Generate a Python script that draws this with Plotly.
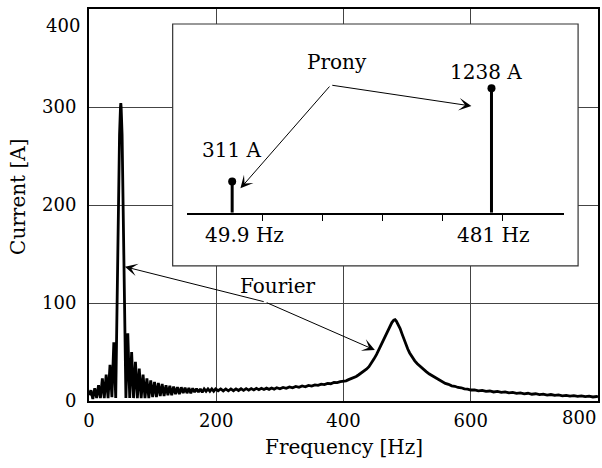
import plotly.graph_objects as go

# ---------------- data ----------------
# Fourier spectrum, 0-58 Hz (left side lobes + 50 Hz peak)
freq_a = [0, 3, 6, 9, 12, 15, 18, 21, 24, 27, 30, 33, 36, 39, 42,
          45, 48, 49.5, 50, 50.5, 52, 55, 58]
cur_a = [6, 11, 2, 13, 3, 16, 3, 23, 3, 27, 3, 37, 4, 60, 3,
         150, 272, 300, 304, 300, 272, 150, 3]
# 61-199 Hz (right side lobes)
freq_b = [61, 64, 67, 70, 73, 76, 79, 82, 85, 88, 91, 94, 97, 100, 103, 106,
          109, 112, 115, 118, 121, 124, 127, 130, 133, 136, 139, 142, 145, 148,
          151, 154, 157, 160, 163, 166, 169, 172, 175, 178, 181, 184, 187, 190,
          193, 196, 199]
cur_b = [69, 3, 50, 3, 40, 3, 33, 3, 27, 3, 23, 3, 21, 4, 19.5, 4,
         18.5, 5, 17.5, 5, 16, 6, 15.5, 6, 14.8, 7, 14.3, 7, 14, 8,
         13.6, 8, 13.2, 8, 13, 9, 12.6, 9, 12.4, 9, 12.4, 10, 12.4, 10,
         12.4, 10, 12.4]
# 203-400 Hz
freq_c = [203, 207, 211, 215, 219, 223, 227, 231, 235, 239, 243, 247, 251, 255,
          259, 263, 267, 271, 275, 279, 283, 287, 291, 295,
          300, 305, 310, 315, 320, 325, 330, 335, 340, 345, 350, 355, 360, 365,
          370, 375, 380, 385, 390, 395, 400]
cur_c = [10.5, 12.3, 10.3, 12.3, 10.4, 12.3, 10.5, 12.4, 10.7, 12.5, 10.9, 12.6,
         11.1, 12.7, 11.3, 12.9, 11.5, 13, 11.7, 13.1, 11.9, 13.3, 12.1, 13.5,
         12.5, 13.9, 12.9, 14.3, 13.4, 14.8, 13.9, 15.3, 14.5, 15.9, 15.2, 16.5,
         15.9, 17.2, 16.7, 18, 17.6, 18.9, 18.7, 19.8, 20.2]
# 404-600 Hz (481 Hz resonance)
freq_d = [404, 408, 412, 416, 420, 424, 428, 432, 436, 440, 444, 448, 452, 456,
          460, 464, 468, 472, 476, 479, 481, 483, 486, 489, 492, 495, 498, 501,
          504, 508, 512, 516, 520, 525, 530, 535, 540, 545, 550, 555, 560, 565,
          570, 575, 580, 585, 590, 595, 600]
cur_d = [20.6, 21.8, 22.6, 24, 25, 26.8, 28.5, 30.5, 32.5, 35, 38.5, 43, 47.5,
         53, 58, 63, 68.5, 74, 80, 82.5, 83, 81.5, 78, 74, 68.5, 63, 58, 53,
         49, 44.5, 41, 38, 35.5, 32.5, 30, 27.5, 25.5, 23.5, 21.5, 20, 18, 17,
         15.5, 15, 13.8, 13.5, 12.4, 12.2, 11.2]
# 606-800 Hz
freq_e = [606, 612, 618, 624, 630, 636, 642, 648, 654, 660, 666, 672, 678, 684,
          690, 696, 702, 708, 714, 720, 726, 732, 738, 744, 750, 756, 762, 768,
          774, 780, 786, 792, 798, 800]
cur_e = [11.4, 10.4, 10.8, 9.8, 10.2, 9.2, 9.8, 8.8, 9.3, 8.3, 8.8, 7.8, 8.3,
         7.3, 7.9, 6.9, 7.4, 6.5, 7, 6.1, 6.6, 5.7, 6.2, 5.3, 5.8, 5, 5.5, 4.7,
         5.2, 4.4, 4.9, 4.1, 4.6, 4.2]

fourier_freq = freq_a + freq_b + freq_c + freq_d + freq_e
fourier_cur = cur_a + cur_b + cur_c + cur_d + cur_e

# Prony estimates (inset)
prony_freq = [49.9, 481]
prony_amp = [311, 1238]
prony_amp_labels = ["311 A", "1238 A"]
prony_freq_labels = ["49.9 Hz", "481 Hz"]
inset_ticks = [100, 200, 300, 400, 500]

# main axes ticks
x_ticks = [0, 200, 400, 600, 800]
x_tick_labels = ["0", "200", "400", "600", "800"]
y_ticks = [0, 100, 200, 300, 400]
y_tick_labels = ["0", "100", "200", "300", "400"]

FONT = "DejaVu Serif"

# ---------------- figure ----------------
fig = go.Figure()

fig.add_trace(go.Scatter(
    x=fourier_freq, y=fourier_cur, mode="lines",
    line=dict(color="black", width=2.8), showlegend=False, hoverinfo="skip"))

stem_x, stem_y = [], []
for f, a in zip(prony_freq, prony_amp):
    stem_x += [f, f, None]
    stem_y += [0, a, None]
fig.add_trace(go.Scatter(
    x=stem_x, y=stem_y, mode="lines", xaxis="x2", yaxis="y2",
    line=dict(color="black", width=3), showlegend=False, hoverinfo="skip"))
fig.add_trace(go.Scatter(
    x=prony_freq, y=prony_amp, mode="markers", xaxis="x2", yaxis="y2",
    marker=dict(color="black", size=8), showlegend=False, hoverinfo="skip",
    cliponaxis=False))

tick_font = dict(family=FONT, size=18, color="black")
text_font = dict(family=FONT, size=20, color="black")

fig.update_layout(
    width=602, height=468,
    margin=dict(l=89, r=2, t=9, b=67),
    paper_bgcolor="white", plot_bgcolor="white",
    font=dict(family=FONT, size=18, color="black"),
    xaxis=dict(range=[0, 800], tickvals=x_ticks[:-1], ticktext=x_tick_labels[:-1],
               showgrid=True, gridcolor="#444", gridwidth=1, zeroline=False,
               showline=True, mirror=True, linecolor="black", linewidth=2,
               ticks="", tickfont=tick_font, ticklabelstandoff=2),
    yaxis=dict(range=[0, 400], tickvals=y_ticks[:-1], ticktext=y_tick_labels[:-1],
               showgrid=True, gridcolor="#444", gridwidth=1, zeroline=False,
               showline=True, mirror=True, linecolor="black", linewidth=2,
               ticks="", tickfont=tick_font, ticklabelstandoff=7),
    xaxis2=dict(domain=[0.1918, 0.9335], anchor="y2", range=[-25.8, 601.8],
                tickvals=inset_ticks, showticklabels=False, ticks="outside",
                ticklen=7, tickwidth=1, tickcolor="black",
                showline=True, linecolor="black", linewidth=1.5,
                showgrid=False, zeroline=False),
    yaxis2=dict(domain=[0.4804, 0.9464], anchor="x2", range=[0, 1818],
                visible=False, showgrid=False, zeroline=False),
)

# inset frame (white box above the main grid, below the traces)
fig.add_shape(type="rect", xref="x", yref="y", x0=131.5, x1=768.7, y0=137.8, y1=384.7,
              fillcolor="white", line=dict(color="#333", width=1.2), layer="between")

ann = []
# last tick labels drawn inside the frame, as in the reference
ann.append(dict(text=x_tick_labels[-1], xref="paper", yref="paper", x=1.0, y=0,
                xanchor="right", yanchor="top", yshift=-4, showarrow=False,
                font=tick_font))
ann.append(dict(text=y_tick_labels[-1], xref="paper", yref="paper", x=0, y=1.0,
                xanchor="right", yanchor="middle", xshift=-7, yshift=-16,
                showarrow=False, font=tick_font))
# axis titles
ann.append(dict(text="Frequency [Hz]", xref="paper", yref="paper", x=0.501, y=-0.117,
                xanchor="center", yanchor="middle", showarrow=False, font=text_font))
ann.append(dict(text="Current [A]", xref="paper", yref="paper", x=-0.14, y=0.52,
                xanchor="center", yanchor="middle", textangle=-90, showarrow=False,
                font=text_font))
# inset labels
ann.append(dict(text=prony_amp_labels[0], xref="x2", yref="y2", x=prony_freq[0], y=prony_amp[0],
                yshift=31, showarrow=False, font=text_font))
ann.append(dict(text=prony_amp_labels[1], xref="x2", yref="y2", x=prony_freq[1], y=prony_amp[1],
                xshift=-5, yshift=16, showarrow=False, font=text_font))
ann.append(dict(text=prony_freq_labels[0], xref="x2", yref="y2", x=prony_freq[0], y=0,
                xshift=12, yshift=-22, showarrow=False, font=text_font))
ann.append(dict(text=prony_freq_labels[1], xref="x2", yref="y2", x=prony_freq[1], y=0,
                xshift=2, yshift=-22, showarrow=False, font=text_font))
# Prony label and arrows
ann.append(dict(text="Prony", xref="x", yref="y", x=390, y=346, showarrow=False,
                font=text_font))
for hx, hy in [(601, 301), (238, 217)]:
    ann.append(dict(text="", xref="x", yref="y", x=hx, y=hy, axref="x", ayref="y",
                    ax=380, ay=322.4, showarrow=True, arrowhead=3, arrowsize=2.1,
                    arrowwidth=1, arrowcolor="black"))
# Fourier label and arrows
ann.append(dict(text="Fourier", xref="x", yref="y", x=296, y=117, showarrow=False,
                font=text_font))
for hx, hy in [(56.4, 137), (449.3, 52)]:
    ann.append(dict(text="", xref="x", yref="y", x=hx, y=hy, axref="x", ayref="y",
                    ax=277, ay=101, showarrow=True, arrowhead=3, arrowsize=2.1,
                    arrowwidth=1, arrowcolor="black"))

fig.update_layout(annotations=ann)

fig.write_html("out.html")
